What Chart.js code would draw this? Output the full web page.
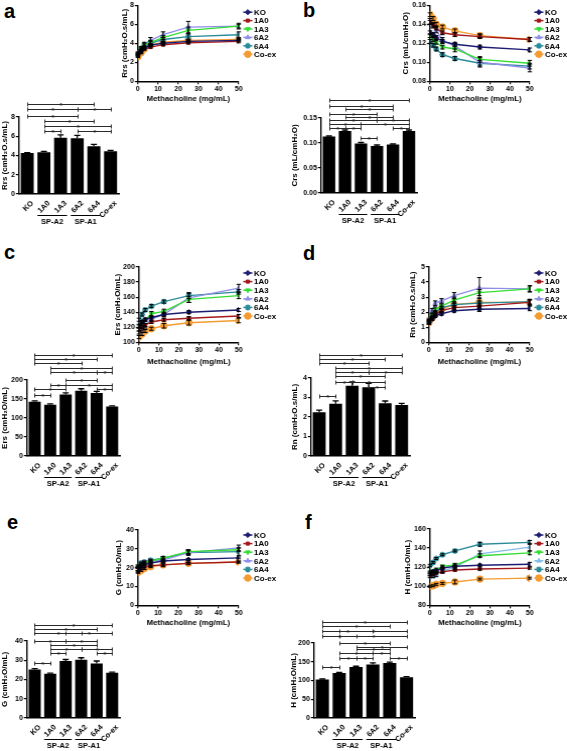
<!DOCTYPE html>
<html><head><meta charset="utf-8">
<script src="https://cdn.jsdelivr.net/npm/chart.js@4.4.0/dist/chart.umd.min.js"></script>
<style>
html,body{margin:0;padding:0;background:#fff;}
#wrap{position:relative;width:567px;height:751px;overflow:hidden;background:#fff;}
#wrap canvas{position:absolute;}
.lbl{position:absolute;font:bold 20px "Liberation Sans",Arial,sans-serif;color:#000;line-height:22px;}
</style></head><body><div id="wrap">
<div class="lbl" style="left:4px;top:0px">a</div>
<div class="lbl" style="left:303px;top:-1px">b</div>
<div class="lbl" style="left:4px;top:241px">c</div>
<div class="lbl" style="left:303px;top:242px">d</div>
<div class="lbl" style="left:7px;top:511px">e</div>
<div class="lbl" style="left:305px;top:511px">f</div>
</div>
<script>
// ---------- shared categories ----------
const doses = [0, 1.5625, 3.125, 6.25, 12.5, 25, 50];
const groups = ['KO', '1A0', '1A3', '6A2', '6A4', 'Co-ex'];

// ---------- a: Rrs ----------
const rrsKO   = [2.8, 3.2, 3.5, 3.8, 4.0, 4.2, 4.3];
const rrs1A0  = [2.7, 3.1, 3.4, 3.6, 3.85, 4.05, 4.2];
const rrs1A3  = [2.9, 3.4, 3.8, 4.1, 4.6, 5.35, 5.8];
const rrs6A2  = [3.0, 3.5, 3.9, 4.3, 4.9, 5.7, 5.8];
const rrs6A4  = [2.9, 3.4, 3.7, 4.0, 4.4, 4.7, 4.9];
const rrsCoex = [2.6, 3.0, 3.4, 3.8, 4.1, 4.3, 4.4];
const rrsErrKO   = [0.1, 0.1, 0.1, 0.1, 0.1, 0.1, 0.1];
const rrsErr1A0  = [0.1, 0.1, 0.1, 0.1, 0.1, 0.1, 0.15];
const rrsErr1A3  = [0.1, 0.1, 0.2, 0.2, 0.2, 0.35, 0.2];
const rrsErr6A2  = [0.1, 0.15, 0.2, 0.3, 0.3, 0.6, 0.3];
const rrsErr6A4  = [0.1, 0.1, 0.1, 0.2, 0.2, 0.3, 0.3];
const rrsErrCoex = [0.1, 0.1, 0.1, 0.1, 0.1, 0.1, 0.1];
const rrsBar    = [4.25, 4.35, 5.85, 5.8, 4.95, 4.45];
const rrsBarErr = [0.05, 0.08, 0.3, 0.3, 0.2, 0.08];
const rrsBrackets = [[0,4,9.3],[0,3,8.85],[3,5,8.85],[0,3,8.1],[1,4,7.6],[1,5,7.1],[1,2,6.55],[3,5,6.55]];

// ---------- b: Crs ----------
const crsKO   = [0.131, 0.129, 0.126, 0.122, 0.119, 0.116, 0.113];
const crs1A0  = [0.142, 0.139, 0.136, 0.131, 0.129, 0.127, 0.124];
const crs1A3  = [0.128, 0.124, 0.121, 0.116, 0.114, 0.103, 0.099];
const crs6A2  = [0.143, 0.139, 0.134, 0.123, 0.117, 0.100, 0.094];
const crs6A4  = [0.122, 0.118, 0.114, 0.108, 0.104, 0.099, 0.096];
const crsCoex = [0.150, 0.146, 0.140, 0.137, 0.133, 0.128, 0.124];
const crsErrKO   = [0.002, 0.002, 0.002, 0.002, 0.002, 0.002, 0.002];
const crsErr1A0  = [0.002, 0.002, 0.002, 0.002, 0.002, 0.002, 0.002];
const crsErr1A3  = [0.002, 0.002, 0.002, 0.002, 0.003, 0.003, 0.003];
const crsErr6A2  = [0.003, 0.003, 0.003, 0.003, 0.003, 0.005, 0.004];
const crsErr6A4  = [0.002, 0.002, 0.002, 0.002, 0.002, 0.003, 0.003];
const crsErrCoex = [0.002, 0.002, 0.002, 0.002, 0.002, 0.002, 0.002];
const crsBar    = [0.113, 0.124, 0.099, 0.094, 0.097, 0.124];
const crsBarErr = [0.001, 0.002, 0.002, 0.002, 0.001, 0.002];
const crsBrackets = [[0,5,0.186],[0,4,0.174],[1,4,0.168],[0,3,0.158],[1,4,0.152],[0,3,0.146],[3,5,0.146],[0,2,0.137],[2,5,0.137],[0,1,0.130],[1,2,0.130],[4,5,0.130],[2,3,0.110]];

// ---------- c: Ers ----------
const ersKO   = [122, 127, 130, 133, 137, 140, 143];
const ers1A0  = [117, 120, 123, 127, 130, 132, 135];
const ers1A3  = [121, 125, 130, 138, 141, 157, 162];
const ers6A2  = [113, 117, 122, 131, 137, 159, 172];
const ers6A4  = [130, 137, 143, 148, 154, 162, 167];
const ersCoex = [107, 111, 115, 118, 122, 126, 129];
const ersErrKO   = [2, 2, 2, 2, 2, 2, 2];
const ersErr1A0  = [2, 2, 2, 2, 2, 2, 2];
const ersErr1A3  = [2, 2, 2, 3, 3, 4, 4];
const ersErr6A2  = [2, 2, 3, 3, 3, 6, 5];
const ersErr6A4  = [2, 2, 2, 2, 2, 4, 3];
const ersErrCoex = [2, 2, 2, 2, 3, 3, 3];
const ersBar    = [143, 135, 162, 172, 166, 130];
const ersBarErr = [2, 2, 4, 5, 4, 2];
const ersBrackets = [[0,5,266],[0,4,255],[0,3,245],[1,5,232],[1,4,221],[4,5,221],[2,4,200],[1,2,187],[2,5,187],[0,2,176],[4,5,176],[0,1,160]];

// ---------- d: Rn ----------
const rnKO   = [1.3, 1.55, 1.75, 1.9, 2.1, 2.2, 2.25];
const rn1A0  = [1.35, 1.6, 1.85, 2.1, 2.3, 2.4, 2.65];
const rn1A3  = [1.4, 1.8, 2.2, 2.4, 2.8, 3.3, 3.55];
const rn6A2  = [1.5, 2.1, 2.6, 2.75, 3.1, 3.6, 3.55];
const rn6A4  = [1.4, 1.7, 2.0, 2.3, 2.5, 2.6, 2.7];
const rnCoex = [1.3, 1.6, 1.9, 2.2, 2.5, 2.65, 2.65];
const rnErrKO   = [0.1, 0.1, 0.1, 0.1, 0.1, 0.15, 0.15];
const rnErr1A0  = [0.1, 0.1, 0.1, 0.1, 0.15, 0.2, 0.2];
const rnErr1A3  = [0.1, 0.1, 0.15, 0.15, 0.2, 0.2, 0.2];
const rnErr6A2  = [0.1, 0.15, 0.15, 0.15, 0.2, 0.7, 0.2];
const rnErr6A4  = [0.1, 0.1, 0.1, 0.1, 0.1, 0.15, 0.15];
const rnErrCoex = [0.1, 0.1, 0.1, 0.15, 0.2, 0.3, 0.15];
const rnBar    = [2.25, 2.68, 3.6, 3.52, 2.7, 2.62];
const rnBarErr = [0.1, 0.15, 0.2, 0.2, 0.12, 0.08];
const rnBrackets = [[0,5,5.2],[0,4,4.95],[0,3,4.75],[1,5,4.5],[1,3,4.3],[3,5,4.3],[1,4,4.1],[1,2,3.8],[2,4,3.8],[3,4,3.55],[0,1,3.1]];

// ---------- e: G ----------
const gKO   = [19, 20.5, 21.5, 22.5, 23.5, 24.3, 25.2];
const g1A0  = [18, 19.5, 20.5, 21, 21.5, 22.3, 23];
const g1A3  = [20, 21.5, 22.5, 23.5, 25, 28.5, 29.5];
const g6A2  = [20.5, 22, 23, 23.5, 24, 28, 30.5];
const g6A4  = [21, 22.5, 23, 24, 25, 28, 28.5];
const gCoex = [17.5, 18.5, 19.5, 20.5, 21.5, 22.3, 23];
const gErrKO   = [0.5, 0.5, 0.5, 0.5, 0.5, 0.5, 0.5];
const gErr1A0  = [0.5, 0.5, 1.5, 0.5, 1, 0.5, 0.5];
const gErr1A3  = [0.5, 0.5, 0.5, 0.5, 0.8, 1, 1];
const gErr6A2  = [0.5, 0.5, 0.5, 0.5, 0.8, 1.5, 1.5];
const gErr6A4  = [0.5, 0.5, 0.5, 0.5, 0.8, 1, 2];
const gErrCoex = [0.5, 0.5, 0.5, 0.5, 0.5, 0.5, 0.5];
const gBar    = [25.2, 23, 29.6, 30.3, 28.3, 23.5];
const gBarErr = [0.4, 0.3, 0.8, 1.0, 1.3, 0.3];
const gBrackets = [[0,5,48.3],[0,4,46.2],[0,3,44.1],[2,5,44.1],[0,2,40],[2,4,40],[1,4,38],[1,3,35.8],[3,5,35.8],[1,2,33.8],[4,5,33.8],[0,1,28.6]];

// ---------- f: H ----------
const hKO   = [114, 115, 116, 119, 121, 122, 123];
const h1A0  = [112, 113, 114, 115, 117, 118, 119];
const h1A3  = [115, 116, 117, 121, 122, 132, 135];
const h6A2  = [110, 110, 112, 116, 120, 134, 141];
const h6A4  = [122, 125, 129, 133, 137, 144, 146];
const hCoex = [100, 100.5, 102, 103, 104.5, 107.5, 108.5];
const hErrKO   = [1, 1, 1, 1, 1, 1, 2];
const hErr1A0  = [1, 1, 1, 1, 1, 1, 1];
const hErr1A3  = [1, 1, 2, 1, 2, 2, 2];
const hErr6A2  = [1, 1, 2, 2, 2, 3, 4];
const hErr6A4  = [1, 1, 1, 1, 1, 2, 2];
const hErrCoex = [1, 1, 1, 1, 2, 1, 1];
const hBar    = [103, 120, 136, 143, 147, 109];
const hBarErr = [1, 1.5, 2, 4, 2, 1.5];
const hBrackets = [[0,5,256],[0,4,245],[0,3,232],[1,5,232],[0,2,219],[1,5,219],[1,4,200],[2,5,189],[2,4,184],[1,3,173],[3,4,173],[1,2,160],[2,3,160],[4,5,160],[0,1,136]];

// ---------- styles ----------
const FONT = '"Liberation Sans", Arial, Helvetica, sans-serif';
const FS = 7;     // tick labels
const TFS = 8;    // axis titles
const seriesColors = ['#1c1c72', '#a3191c', '#33dd33', '#8e8ee8', '#2b8b99', '#f49b32'];
const seriesColorsF = ['#1c1c72', '#a3191c', '#33dd33', '#82bce8', '#2b8b99', '#f49b32'];
const pointStyles = ['rectRot', 'rect', 'triangle', 'triangle', 'star', 'circle'];
const pointRotations = [0, 0, 180, 0, 0, 0];
const pointRadii = [2.6, 2.2, 2.6, 2.6, 3, 3.3];

// ---------- plugins ----------
const errPlugin = {
  id: 'errbars',
  afterDatasetsDraw(chart) {
    const ctx = chart.ctx, ys = chart.scales.y, isBar = chart.config.type === 'bar';
    chart.data.datasets.forEach((ds, i) => {
      if (!ds.errors) return;
      const meta = chart.getDatasetMeta(i);
      ctx.save();
      ctx.strokeStyle = '#000'; ctx.lineWidth = isBar ? 1.3 : 1;
      meta.data.forEach((el, k) => {
        const e = ds.errors[k];
        if (!e) return;
        const v = isBar ? ds.data[k] : ds.data[k].y;
        const x = el.x;
        const yt = ys.getPixelForValue(v + e);
        const yb = isBar ? el.y : ys.getPixelForValue(v - e);
        const cw = isBar ? 3 : 2.2;
        ctx.beginPath();
        ctx.moveTo(x, yb); ctx.lineTo(x, yt);
        ctx.moveTo(x - cw, yt); ctx.lineTo(x + cw, yt);
        if (!isBar) { ctx.moveTo(x - cw, yb); ctx.lineTo(x + cw, yb); }
        ctx.stroke();
      });
      ctx.restore();
    });
  }
};

const sideLegend = {
  id: 'sideLegend',
  afterDraw(chart, args, opts) {
    if (!opts || !opts.show) return;
    const ctx = chart.ctx, ca = chart.chartArea;
    chart.data.datasets.forEach((ds, i) => {
      const y = ca.top + opts.dy + i * opts.step;
      const x = ca.right + opts.dx;
      ctx.save();
      ctx.strokeStyle = ds.borderColor; ctx.lineWidth = 1.5;
      ctx.beginPath(); ctx.moveTo(x - 4.5, y); ctx.lineTo(x + 4.5, y); ctx.stroke();
      ctx.fillStyle = ds.backgroundColor; ctx.strokeStyle = ds.borderColor;
      ctx.lineWidth = ds.pointStyle === 'star' ? 1.5 : 1;
      Chart.helpers.drawPoint(ctx, {pointStyle: ds.pointStyle, radius: ds.pointRadius, rotation: ds.pointRotation, borderWidth: ctx.lineWidth}, x, y);
      ctx.fillStyle = '#000'; ctx.font = 'bold 8px ' + FONT; ctx.textBaseline = 'middle'; ctx.textAlign = 'left';
      ctx.fillText(ds.label, x + 6, y + 0.5);
      ctx.restore();
    });
  }
};

const bracketPlugin = {
  id: 'brackets',
  afterDraw(chart, args, opts) {
    if (!opts || !opts.list) return;
    const xs = chart.scales.x, ys = chart.scales.y, ctx = chart.ctx;
    ctx.save();
    ctx.strokeStyle = '#2a2a2a'; ctx.fillStyle = '#2a2a2a'; ctx.lineWidth = 1;
    ctx.font = 'bold 7px ' + FONT; ctx.textAlign = 'center'; ctx.textBaseline = 'alphabetic';
    opts.list.forEach(([a, b, v]) => {
      const x1 = Math.round(xs.getPixelForValue(a)) + 0.5, x2 = Math.round(xs.getPixelForValue(b)) + 0.5;
      const y = Math.round(ys.getPixelForValue(v)) + 0.5;
      ctx.beginPath();
      ctx.moveTo(x1, y - 2); ctx.lineTo(x1, y + 2);
      ctx.moveTo(x1, y); ctx.lineTo(x2, y);
      ctx.moveTo(x2, y - 2); ctx.lineTo(x2, y + 2);
      ctx.stroke();
      ctx.fillText('*', (x1 + x2) / 2, y + 3.5);
    });
    ctx.restore();
  }
};

const groupPlugin = {
  id: 'groupLabels',
  afterDraw(chart, args, opts) {
    if (!opts || !opts.list) return;
    const xs = chart.scales.x, ctx = chart.ctx, ca = chart.chartArea;
    const half = xs.getPixelForValue(1) - xs.getPixelForValue(0);
    ctx.save();
    ctx.strokeStyle = '#000'; ctx.fillStyle = '#000'; ctx.lineWidth = 1;
    ctx.font = 'bold 7.5px ' + FONT; ctx.textAlign = 'center'; ctx.textBaseline = 'middle';
    opts.list.forEach(([a, b, txt]) => {
      const x1 = xs.getPixelForValue(a) - half * 0.39, x2 = xs.getPixelForValue(b) + half * 0.39;
      const y = Math.round(ca.bottom + opts.lineDy) + 0.5;
      ctx.beginPath(); ctx.moveTo(x1, y); ctx.lineTo(x2, y); ctx.stroke();
      ctx.fillText(txt, (x1 + x2) / 2, ca.bottom + opts.textDy);
    });
    ctx.restore();
  }
};

// ---------- builders ----------
const wrap = document.getElementById('wrap');
const LH = TFS * 1.2;

function addCanvas(left, top, w, h) {
  const c = document.createElement('canvas');
  c.width = w; c.height = h;
  c.style.left = left + 'px'; c.style.top = top + 'px';
  c.style.width = w + 'px'; c.style.height = h + 'px';
  wrap.appendChild(c);
  return c;
}

function axisCommon() {
  return {
    border: {display: true, color: '#000', width: 1.4},
    grid: {display: true, drawOnChartArea: false, color: '#000', tickLength: 3, lineWidth: 1.2},
  };
}

function tickFont() { return {family: FONT, size: FS, weight: 'bold'}; }
function titleFont() { return {family: FONT, size: TFS, weight: 'bold'}; }

function lineChart(o) {
  const yW = o.plot.x0 - (o.yTitleX - LH / 2);
  const left = o.plot.x0 - yW;
  const xH = o.xTitleY + (7.8 * 1.2) / 2 - o.plot.y1;
  const top = o.top;
  const h = Math.round(o.plot.y1 + xH - top);
  const w = o.right - left;
  const cv = addCanvas(left, top, w, h);
  const cols = o.colors || seriesColors;
  const datasets = o.series.map((arr, i) => ({
    label: groups[i],
    data: arr.map((v, k) => ({x: doses[k], y: v})),
    errors: o.errs[i],
    borderColor: cols[i], backgroundColor: cols[i],
    pointStyle: pointStyles[i], pointRotation: pointRotations[i], pointRadius: pointRadii[i],
    pointBorderWidth: pointStyles[i] === 'star' ? 1.5 : 1, borderWidth: 1.4, tension: 0,
  }));
  new Chart(cv, {
    type: 'line',
    data: {datasets},
    options: {
      responsive: false, animation: false, devicePixelRatio: 1,
      layout: {autoPadding: false, padding: {left: 0, top: o.plot.y0 - top, right: (left + w) - o.plot.x1, bottom: 0}},
      plugins: {legend: {display: false}, tooltip: {enabled: false},
        sideLegend: {show: true, dx: o.legDx, dy: o.legDy, step: o.legStep}},
      scales: {
        x: Object.assign(axisCommon(), {
          type: 'linear', min: 0, max: 50,
          afterFit(ax) { ax.height = xH; },
          ticks: {stepSize: 10, color: '#000', font: tickFont(), padding: 1, maxRotation: 0},
          title: {display: true, text: 'Methacholine (mg/mL)', color: '#000', font: {family: FONT, size: 7.8, weight: 'bold'}, padding: 0},
        }),
        y: Object.assign(axisCommon(), {
          min: o.ymin, max: o.ymax,
          afterFit(ax) { ax.width = yW; },
          ticks: {stepSize: o.ystep, color: '#000', font: tickFont(), padding: 1,
            callback: v => o.dec ? Number(v).toFixed(o.dec) : v},
          title: {display: true, text: o.title, color: '#000', font: titleFont(), padding: 0},
        }),
      },
    },
    plugins: [errPlugin, sideLegend],
  });
}

function barChart(o) {
  const yW = o.plot.x0 - (o.yTitleX - LH / 2);
  const left = o.plot.x0 - yW;
  const xH = 60;
  const top = o.top;
  const h = Math.round(o.plot.y1 + xH - top);
  const w = o.right - left;
  const cv = addCanvas(left, top, w, h);
  new Chart(cv, {
    type: 'bar',
    data: {labels: groups, datasets: [{data: o.values, errors: o.errs, backgroundColor: '#000', borderWidth: 0,
      barPercentage: 0.78, categoryPercentage: 1}]},
    options: {
      responsive: false, animation: false, devicePixelRatio: 1,
      layout: {autoPadding: false, padding: {left: 0, top: o.plot.y0 - top, right: (left + w) - o.plot.x1, bottom: 0}},
      plugins: {legend: {display: false}, tooltip: {enabled: false},
        brackets: {list: o.brackets},
        groupLabels: {list: [[1, 2, 'SP-A2'], [3, 4, 'SP-A1']], lineDy: 21, textDy: 28}},
      scales: {
        x: {
          border: {display: true, color: '#000', width: 1.4},
          grid: {display: false},
          afterFit(ax) { ax.height = xH; },
          ticks: {color: '#000', font: {family: FONT, size: 7.5, weight: 'bold'}, minRotation: 45, maxRotation: 45,
            padding: -3, labelOffset: 5, autoSkip: false},
        },
        y: Object.assign(axisCommon(), {
          min: 0, max: o.ymax,
          afterFit(ax) { ax.width = yW; },
          ticks: {stepSize: o.ystep, color: '#000', font: tickFont(), padding: 1,
            callback: v => o.dec ? Number(v).toFixed(o.dec) : v},
          title: {display: true, text: o.title, color: '#000', font: titleFont(), padding: 0},
        }),
      },
    },
    plugins: [errPlugin, bracketPlugin, groupPlugin],
  });
}

// ---------- panels ----------
lineChart({plot: {x0: 138, x1: 239, y0: 4, y1: 81}, yTitleX: 125, xTitleY: 99, top: 0, right: 283,
  ymin: 0, ymax: 8, ystep: 2, title: 'Rrs (cmH₂O.s/mL)',
  series: [rrsKO, rrs1A0, rrs1A3, rrs6A2, rrs6A4, rrsCoex],
  errs: [rrsErrKO, rrsErr1A0, rrsErr1A3, rrsErr6A2, rrsErr6A4, rrsErrCoex],
  legDx: 9, legDy: 7, legStep: 8.4});
barChart({plot: {x0: 19, x1: 119, y0: 117, y1: 194}, yTitleX: 5, top: 95, right: 140,
  ymax: 8, ystep: 2, title: 'Rrs (cmH₂O.s/mL)', values: rrsBar, errs: rrsBarErr, brackets: rrsBrackets});

lineChart({plot: {x0: 430, x1: 530, y0: 4, y1: 81}, yTitleX: 406, xTitleY: 99, top: 0, right: 567,
  ymin: 0.08, ymax: 0.16, ystep: 0.02, dec: 2, title: 'Crs (mL/cmH₂O)',
  series: [crsKO, crs1A0, crs1A3, crs6A2, crs6A4, crsCoex],
  errs: [crsErrKO, crsErr1A0, crsErr1A3, crsErr6A2, crsErr6A4, crsErrCoex],
  legDx: 9, legDy: 7, legStep: 8.4});
barChart({plot: {x0: 321, x1: 417, y0: 118, y1: 193}, yTitleX: 295, top: 95, right: 430,
  ymax: 0.15, ystep: 0.05, dec: 2, title: 'Crs (mL/cmH₂O)', values: crsBar, errs: crsBarErr, brackets: crsBrackets});

lineChart({plot: {x0: 139, x1: 239, y0: 267, y1: 342}, yTitleX: 118, xTitleY: 362, top: 258, right: 283,
  ymin: 100, ymax: 200, ystep: 20, title: 'Ers (cmH₂O/mL)',
  series: [ersKO, ers1A0, ers1A3, ers6A2, ers6A4, ersCoex],
  errs: [ersErrKO, ersErr1A0, ersErr1A3, ersErr6A2, ersErr6A4, ersErrCoex],
  legDx: 9, legDy: 6, legStep: 8.6});
barChart({plot: {x0: 27, x1: 120, y0: 380, y1: 456}, yTitleX: 5, top: 350, right: 140,
  ymax: 200, ystep: 50, title: 'Ers (cmH₂O/mL)', values: ersBar, errs: ersBarErr, brackets: ersBrackets});

lineChart({plot: {x0: 429, x1: 530, y0: 267, y1: 342}, yTitleX: 413, xTitleY: 362, top: 258, right: 567,
  ymin: 0, ymax: 5, ystep: 1, title: 'Rn (cmH₂O.s/mL)',
  series: [rnKO, rn1A0, rn1A3, rn6A2, rn6A4, rnCoex],
  errs: [rnErrKO, rnErr1A0, rnErr1A3, rnErr6A2, rnErr6A4, rnErrCoex],
  legDx: 9, legDy: 6, legStep: 8.6});
barChart({plot: {x0: 311, x1: 410, y0: 378, y1: 456}, yTitleX: 295, top: 350, right: 430,
  ymax: 4, ystep: 1, title: 'Rn (cmH₂O.s/mL)', values: rnBar, errs: rnBarErr, brackets: rnBrackets});

lineChart({plot: {x0: 138, x1: 239, y0: 530, y1: 605}, yTitleX: 119, xTitleY: 623, top: 520, right: 283,
  ymin: 0, ymax: 40, ystep: 10, title: 'G (cmH₂O/mL)',
  series: [gKO, g1A0, g1A3, g6A2, g6A4, gCoex],
  errs: [gErrKO, gErr1A0, gErr1A3, gErr6A2, gErr6A4, gErrCoex],
  legDx: 9, legDy: 5, legStep: 8.6});
barChart({plot: {x0: 27, x1: 120, y0: 641, y1: 718}, yTitleX: 5, top: 615, right: 140,
  ymax: 40, ystep: 10, title: 'G (cmH₂O/mL)', values: gBar, errs: gBarErr, brackets: gBrackets});

lineChart({plot: {x0: 430, x1: 530, y0: 529, y1: 605}, yTitleX: 408, xTitleY: 623, top: 520, right: 567,
  ymin: 80, ymax: 160, ystep: 20, title: 'H (cmH₂O/mL)', colors: seriesColorsF,
  series: [hKO, h1A0, h1A3, h6A2, h6A4, hCoex],
  errs: [hErrKO, hErr1A0, hErr1A3, hErr6A2, hErr6A4, hErrCoex],
  legDx: 9, legDy: 6, legStep: 8.6});
barChart({plot: {x0: 314, x1: 415, y0: 643, y1: 718}, yTitleX: 294, top: 615, right: 430,
  ymax: 200, ystep: 50, title: 'H (cmH₂O/mL)', values: hBar, errs: hBarErr, brackets: hBrackets});
</script></body></html>
